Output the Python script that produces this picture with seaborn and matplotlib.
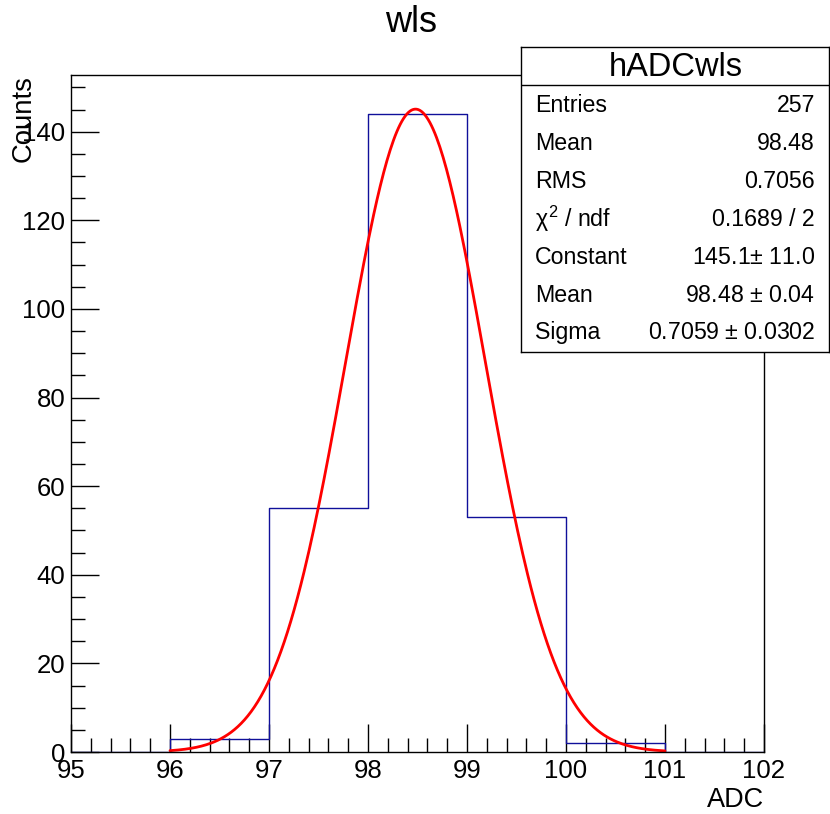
import matplotlib
matplotlib.use('Agg')
import matplotlib.pyplot as plt
import numpy as np
import pandas as pd
import seaborn as sns

# histogram hADCwls
bin_edges = [95, 96, 97, 98, 99, 100, 101, 102]
counts = [0, 3, 55, 144, 53, 2, 0]

# gaussian fit parameters (from the stats box)
fit_const = 145.1
fit_mean = 98.48
fit_sigma = 0.7059
fit_range = [96, 101]

stats_rows = [
    ('Entries', '257'),
    ('Mean', '98.48'),
    ('RMS', '0.7056'),
    (r'$\chi^{2}$ / ndf', '0.1689 / 2'),
    ('Constant', '145.1$\\pm$ 11.0'),
    ('Mean', '98.48 $\\pm$ 0.04'),
    ('Sigma', '0.7059 $\\pm$ 0.0302'),
]

sns.set_style('ticks')
plt.rcParams['font.family'] = ['Liberation Sans', 'DejaVu Sans']
plt.rcParams['mathtext.fontset'] = 'custom'
plt.rcParams['mathtext.rm'] = 'Liberation Sans'
plt.rcParams['mathtext.it'] = 'Liberation Sans'
for k in ['text.color', 'axes.labelcolor', 'xtick.color', 'ytick.color', 'axes.edgecolor']:
    plt.rcParams[k] = 'black'

W, H = 830, 814
fig = plt.figure(figsize=(W / 100, H / 100), dpi=100)
ax = fig.add_axes([71 / W, 1 - 752 / H, (764 - 71) / W, (752 - 75) / H])

centers = [(a + b) / 2 for a, b in zip(bin_edges[:-1], bin_edges[1:])]
df = pd.DataFrame({'ADC': centers, 'Counts': counts})
sns.histplot(data=df, x='ADC', weights='Counts', bins=bin_edges, element='step',
             fill=False, color='#10109a', linewidth=1, ax=ax)

xs = np.linspace(fit_range[0], fit_range[1], 300)
fit_df = pd.DataFrame({'x': xs, 'y': fit_const * np.exp(-0.5 * ((xs - fit_mean) / fit_sigma) ** 2)})
sns.lineplot(data=fit_df, x='x', y='y', color='red', linewidth=2, ax=ax)

ax.set_xlim(95, 102)
ax.set_ylim(0, 152.8)
ax.set_xlabel('')
ax.set_ylabel('')
ax.set_xticks(range(95, 103))
ax.set_xticks(np.arange(95, 102.01, 0.2), minor=True)
ax.set_yticks(range(0, 141, 20))
ax.set_yticks(range(0, 151, 5), minor=True)
ax.tick_params(which='both', direction='in', top=False, right=False, labelsize=18.5, color='black')
ax.tick_params(which='major', length=20, width=1)
ax.tick_params(which='minor', length=10, width=1)
ax.tick_params(axis='x', pad=5)
ax.tick_params(axis='y', pad=4)
for s in ax.spines.values():
    s.set_visible(True)
    s.set_color('black')
    s.set_linewidth(1)

fig.text(411 / W, 1 - 22 / H, 'wls', ha='center', va='center', fontsize=26)
fig.text(24 / W, 1 - 75 / H, 'Counts', rotation=90, ha='center', va='top', fontsize=19.8)
fig.text(764 / W, 1 - 800 / H, 'ADC', ha='right', va='center', fontsize=19.5)

# stats box
bx0, by0, bx1, by1 = 521, 47, 829, 352
box = fig.add_axes([bx0 / W, 1 - by1 / H, (bx1 - bx0) / W, (by1 - by0) / H], zorder=5)
box.set_xticks([])
box.set_yticks([])
box.set_xlim(bx0, bx1)
box.set_ylim(by1, by0)
box.set_facecolor('white')
for s in box.spines.values():
    s.set_color('black')
    s.set_linewidth(1)
box.axhline(85, color='black', linewidth=1)
box.text((bx0 + bx1) / 2 + 0.5, 68, 'hADCwls', ha='center', va='center', fontsize=23.5)
for i, (name, val) in enumerate(stats_rows):
    y = 106 + i * 37.8
    box.text(535, y, name, ha='left', va='center', fontsize=16.7)
    box.text(815, y, val, ha='right', va='center', fontsize=16.7)

fig.savefig('out.png', dpi=100)
